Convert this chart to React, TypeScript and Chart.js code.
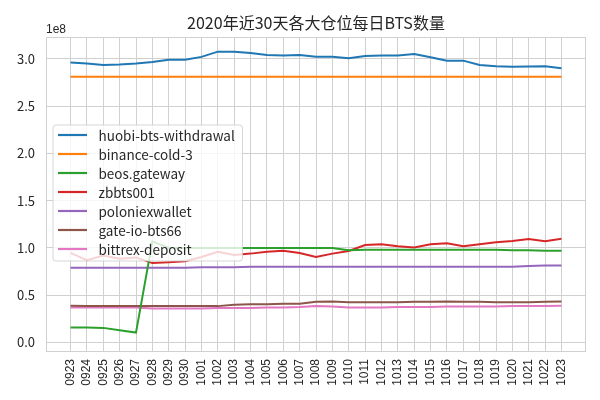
import React, { useEffect, useRef } from "react";
import { Chart, registerables } from "chart.js";

Chart.register(...registerables);

const dates = [
  "0923", "0924", "0925", "0926", "0927", "0928", "0929", "0930",
  "1001", "1002", "1003", "1004", "1005", "1006", "1007", "1008", "1009", "1010",
  "1011", "1012", "1013", "1014", "1015", "1016", "1017", "1018", "1019", "1020",
  "1021", "1022", "1023",
];

const seriesNames = [
  "huobi-bts-withdrawal",
  "binance-cold-3",
  "beos.gateway",
  "zbbts001",
  "poloniexwallet",
  "gate-io-bts66",
  "bittrex-deposit",
];

const seriesColors = ["#1f77b4", "#ff7f0e", "#2ca02c", "#d62728", "#9467bd", "#8c564b", "#e377c2"];

const huobi = [
  2.96e8, 2.95e8, 2.935e8, 2.94e8, 2.95e8, 2.965e8, 2.99e8, 2.99e8, 3.02e8, 3.075e8, 3.075e8,
  3.06e8, 3.04e8, 3.035e8, 3.04e8, 3.02e8, 3.02e8, 3.005e8, 3.03e8, 3.035e8, 3.035e8, 3.05e8,
  3.015e8, 2.98e8, 2.98e8, 2.935e8, 2.92e8, 2.915e8, 2.917e8, 2.92e8, 2.9e8,
];
const binance = [
  2.81e8, 2.81e8, 2.81e8, 2.81e8, 2.81e8, 2.81e8, 2.81e8, 2.81e8, 2.81e8, 2.81e8, 2.81e8,
  2.81e8, 2.81e8, 2.81e8, 2.81e8, 2.81e8, 2.81e8, 2.81e8, 2.81e8, 2.81e8, 2.81e8, 2.81e8,
  2.81e8, 2.81e8, 2.81e8, 2.81e8, 2.81e8, 2.81e8, 2.81e8, 2.81e8, 2.81e8,
];
const beos = [
  0.16e8, 0.16e8, 0.155e8, 0.13e8, 0.105e8, 1.07e8, 1.0e8, 1.0e8, 1.0e8, 1.0e8, 1.0e8,
  1.0e8, 1.0e8, 1.0e8, 1.0e8, 1.0e8, 1.0e8, 0.975e8, 0.98e8, 0.98e8, 0.98e8, 0.98e8,
  0.98e8, 0.98e8, 0.98e8, 0.98e8, 0.98e8, 0.975e8, 0.975e8, 0.97e8, 0.97e8,
];
const zbbts = [
  0.947e8, 0.87e8, 0.92e8, 0.887e8, 0.9e8, 0.84e8, 0.85e8, 0.86e8, 0.905e8, 0.96e8, 0.926e8,
  0.94e8, 0.96e8, 0.97e8, 0.947e8, 0.905e8, 0.94e8, 0.968e8, 1.03e8, 1.04e8, 1.017e8, 1.006e8,
  1.04e8, 1.05e8, 1.017e8, 1.04e8, 1.06e8, 1.074e8, 1.095e8, 1.07e8, 1.098e8,
];
const polo = [
  0.79e8, 0.79e8, 0.79e8, 0.79e8, 0.79e8, 0.79e8, 0.79e8, 0.79e8, 0.795e8, 0.795e8, 0.795e8,
  0.8e8, 0.8e8, 0.8e8, 0.8e8, 0.8e8, 0.8e8, 0.8e8, 0.8e8, 0.8e8, 0.8e8, 0.8e8,
  0.8e8, 0.8e8, 0.8e8, 0.8e8, 0.8e8, 0.8e8, 0.81e8, 0.815e8, 0.815e8,
];
const gateio = [
  0.39e8, 0.385e8, 0.385e8, 0.385e8, 0.385e8, 0.385e8, 0.385e8, 0.385e8, 0.385e8, 0.385e8, 0.4e8,
  0.405e8, 0.405e8, 0.41e8, 0.41e8, 0.43e8, 0.435e8, 0.425e8, 0.425e8, 0.425e8, 0.425e8, 0.43e8,
  0.43e8, 0.435e8, 0.43e8, 0.43e8, 0.425e8, 0.425e8, 0.425e8, 0.43e8, 0.435e8,
];
const bittrex = [
  0.37e8, 0.37e8, 0.37e8, 0.37e8, 0.37e8, 0.36e8, 0.36e8, 0.36e8, 0.36e8, 0.365e8, 0.365e8,
  0.365e8, 0.37e8, 0.37e8, 0.375e8, 0.385e8, 0.38e8, 0.37e8, 0.37e8, 0.37e8, 0.375e8, 0.375e8,
  0.375e8, 0.38e8, 0.38e8, 0.38e8, 0.38e8, 0.385e8, 0.385e8, 0.385e8, 0.39e8,
];

const seriesValues = [huobi, binance, beos, zbbts, polo, gateio, bittrex];

const titleText = "2020年近30天各大仓位每日BTS数量";
const offsetText = "1e8";
const yTickValues = [0, 0.5e8, 1e8, 1.5e8, 2e8, 2.5e8, 3e8];

const GRID = "#d0d0d0";
const TEXT = "#262626";

const decorPlugin = {
  id: "decor",
  beforeDraw(chart: any) {
    const { ctx, width, height } = chart;
    ctx.save();
    ctx.fillStyle = "#ffffff";
    ctx.fillRect(0, 0, width, height);
    ctx.restore();
  },
  afterDatasetsDraw(chart: any) {
    const { ctx, chartArea: a } = chart;
    ctx.save();
    // spines
    ctx.strokeStyle = GRID;
    ctx.lineWidth = 1;
    ctx.strokeRect(a.left + 0.5, a.top + 0.5, a.right - a.left - 1, a.bottom - a.top - 1);

    // legend box
    const bx = a.left + 7;
    const by = a.top + 88;
    const bw = 189.5;
    const bh = 136;
    const r = 3;
    ctx.beginPath();
    ctx.moveTo(bx + r, by);
    ctx.lineTo(bx + bw - r, by);
    ctx.quadraticCurveTo(bx + bw, by, bx + bw, by + r);
    ctx.lineTo(bx + bw, by + bh - r);
    ctx.quadraticCurveTo(bx + bw, by + bh, bx + bw - r, by + bh);
    ctx.lineTo(bx + r, by + bh);
    ctx.quadraticCurveTo(bx, by + bh, bx, by + bh - r);
    ctx.lineTo(bx, by + r);
    ctx.quadraticCurveTo(bx, by, bx + r, by);
    ctx.closePath();
    ctx.fillStyle = "rgba(255,255,255,0.8)";
    ctx.fill();
    ctx.strokeStyle = "rgba(204,204,204,0.8)";
    ctx.lineWidth = 1;
    ctx.stroke();

    ctx.font = "13.5px 'Noto Sans CJK SC'";
    ctx.textBaseline = "middle";
    ctx.textAlign = "left";
    chart.data.datasets.forEach((ds: any, k: number) => {
      const y = by + 10 + k * 19;
      ctx.strokeStyle = ds.borderColor;
      ctx.lineWidth = 2.2;
      ctx.beginPath();
      ctx.moveTo(bx + 5, y);
      ctx.lineTo(bx + 34, y);
      ctx.stroke();
      ctx.fillStyle = TEXT;
      ctx.fillText(ds.label, bx + 45.5, y + 0.5);
    });
    ctx.restore();
  },
  afterDraw(chart: any) {
    const { ctx, chartArea: a } = chart;
    ctx.save();
    ctx.fillStyle = TEXT;
    ctx.font = "16px 'Noto Sans CJK SC'";
    ctx.textAlign = "center";
    ctx.textBaseline = "middle";
    ctx.fillText(titleText, (a.left + a.right) / 2, 23);
    ctx.font = "12px 'Liberation Sans'";
    ctx.textAlign = "left";
    ctx.textBaseline = "alphabetic";
    ctx.fillText(offsetText, a.left, 33);
    ctx.restore();
  },
};

export default function App() {
  const ref = useRef<HTMLCanvasElement | null>(null);

  useEffect(() => {
    document.body.style.margin = "0";
    if (!ref.current) return;
    const chart = new Chart(ref.current, {
      type: "line",
      data: {
        datasets: seriesNames.map((name, k) => ({
          label: name,
          data: seriesValues[k].map((v, i) => ({ x: i, y: v })),
          borderColor: seriesColors[k],
          backgroundColor: seriesColors[k],
          borderWidth: 2,
          pointRadius: 0,
          tension: 0,
          fill: false,
        })),
      },
      options: {
        animation: false,
        responsive: false,
        maintainAspectRatio: false,
        layout: { padding: { top: 37, right: 14, left: 0, bottom: 0 } },
        plugins: {
          legend: { display: false },
          title: { display: false },
          tooltip: { enabled: false },
        },
        scales: {
          x: {
            type: "linear",
            min: -1.5,
            max: dates.length - 1 + 1.5,
            afterBuildTicks: (scale: any) => {
              scale.ticks = dates.map((_, i) => ({ value: i }));
            },
            afterFit: (scale: any) => {
              scale.height = 48;
            },
            border: { display: false },
            grid: { color: GRID, lineWidth: 1, drawTicks: false },
            ticks: {
              autoSkip: false,
              maxRotation: 90,
              minRotation: 90,
              padding: 7,
              color: TEXT,
              font: { family: "'Liberation Sans'", size: 12 },
              callback: (v: any) => dates[Math.round(Number(v))] ?? "",
            },
          },
          y: {
            type: "linear",
            min: -0.1e8,
            max: 3.23e8,
            afterBuildTicks: (scale: any) => {
              scale.ticks = yTickValues.map((v) => ({ value: v }));
            },
            afterFit: (scale: any) => {
              scale.width = 46;
            },
            border: { display: false },
            grid: { color: GRID, lineWidth: 1, drawTicks: false },
            ticks: {
              padding: 11,
              color: TEXT,
              font: { family: "'Noto Sans CJK SC'", size: 13 },
              callback: (v: any) => (Number(v) / 1e8).toFixed(1),
            },
          },
        },
      },
      plugins: [decorPlugin],
    } as any);
    return () => chart.destroy();
  }, []);

  return (
    <div style={{ position: "absolute", left: 0, top: 0, width: 600, height: 400 }}>
      <canvas ref={ref} width={600} height={400} style={{ width: 600, height: 400 }} />
    </div>
  );
}
